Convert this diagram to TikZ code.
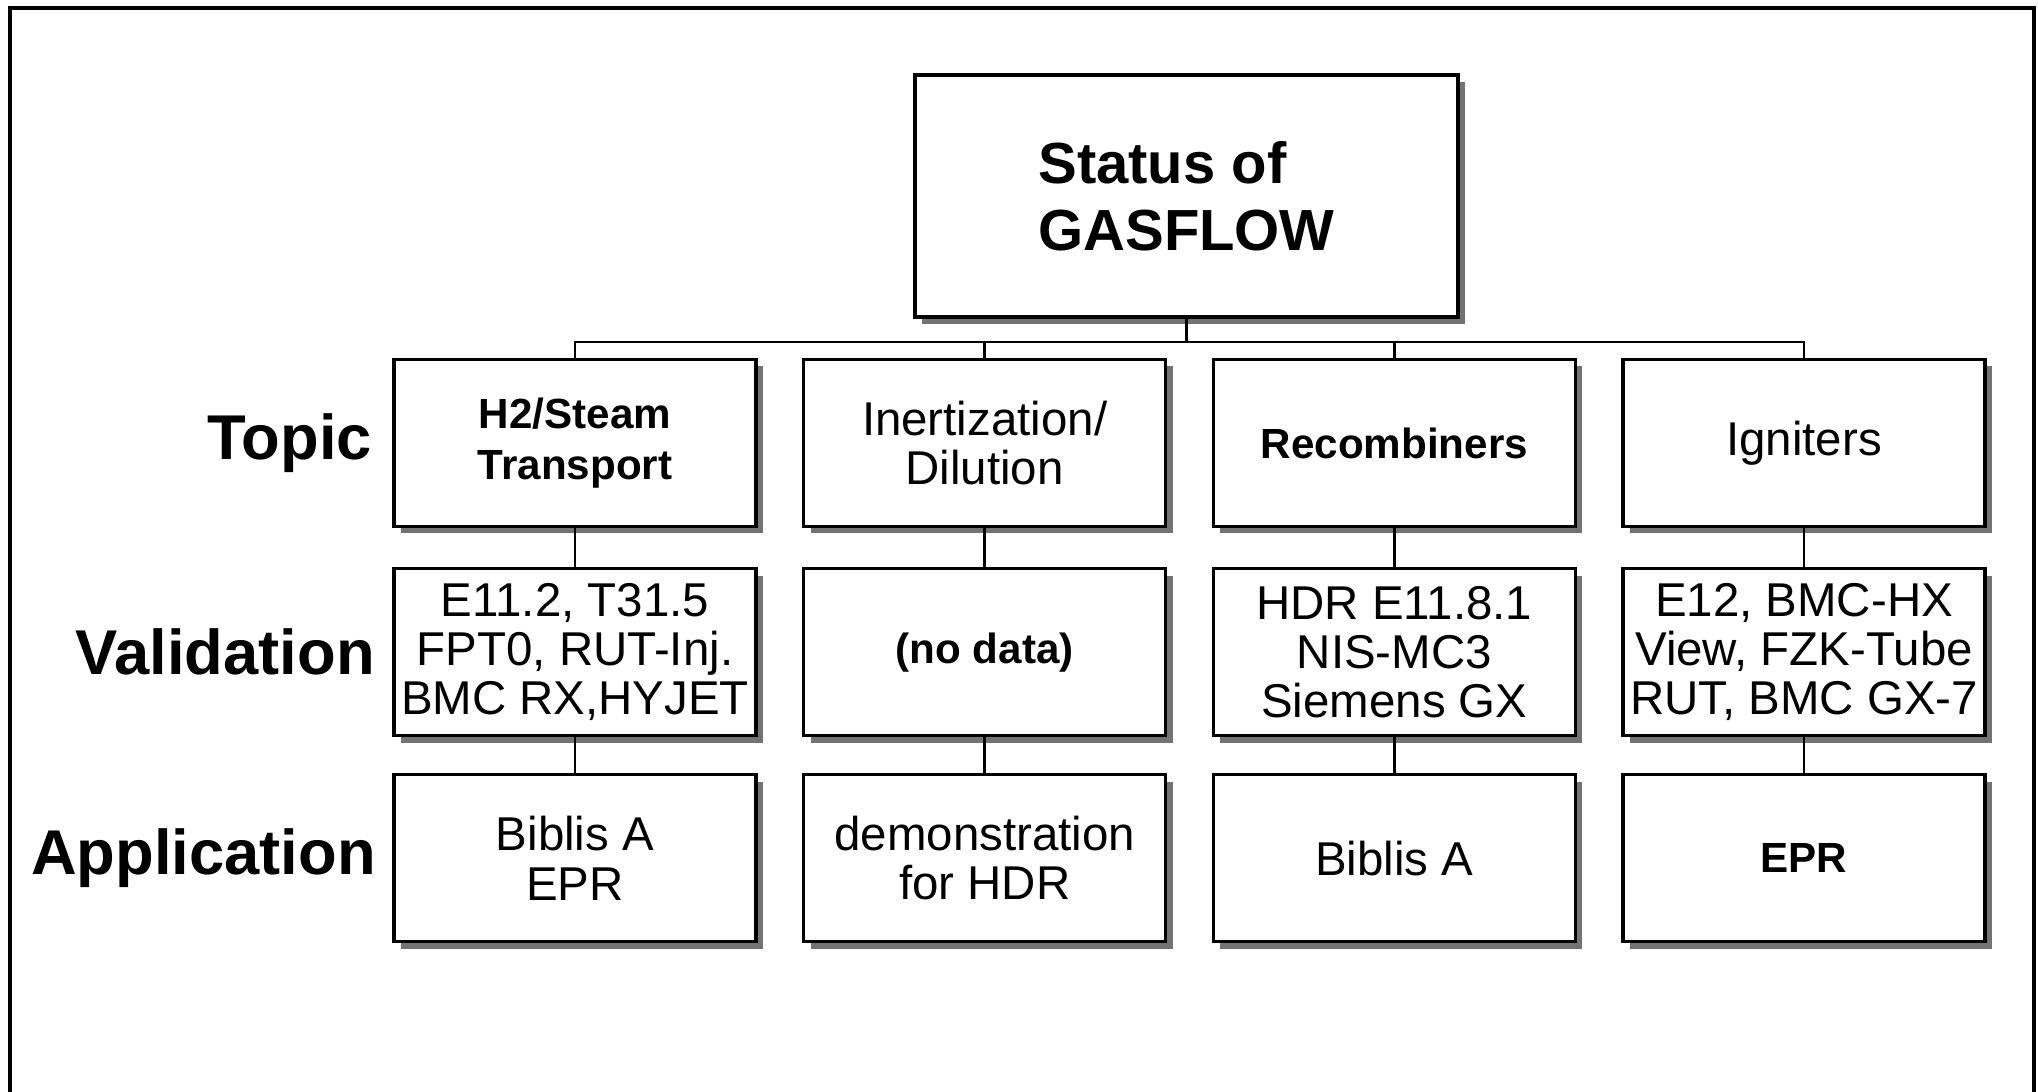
\documentclass[tikz,border=0pt]{standalone}
\usepackage{fontspec}
\setmainfont{Liberation Sans}
\usetikzlibrary{positioning,shadows}

\begin{document}
\begin{tikzpicture}[
        box/.style={rectangle, draw=black, fill=white, line width=0.9pt, minimum width=3.62cm, minimum height=1.67cm, align=center, inner sep=0pt, drop shadow={shadow xshift=0.07cm, shadow yshift=-0.07cm, fill=black!55, opacity=1}},
        statusbox/.style={box, minimum width=5.43cm, minimum height=2.42cm, align=left, font=\fontsize{16.5}{19}\selectfont\bfseries},
        boldbox/.style={box, font=\fontsize{12}{14.5}\selectfont\bfseries},
        plainbox/.style={box, font=\fontsize{13.5}{14}\selectfont},
        rowlabel/.style={font=\fontsize{18}{20}\selectfont\bfseries, inner sep=0pt},
        link/.style={line width=0.7pt},
    ]
    \useasboundingbox (0,0) rectangle (20.38,-10.92);
    \draw[line width=1pt] (0.1,-10.92) -- (0.1,-0.08) -- (20.34,-0.08) -- (20.34,-10.92);

    \node[statusbox] (status) at (11.865,-1.96) {Status of\\GASFLOW};

    % topic row
    \node[boldbox]  (h2)     at (5.75,-4.43)        {H2/Steam\\Transport};
    \node[plainbox] (inert)  [right=0.445cm of h2]     {Inertization/\\Dilution};
    \node[boldbox]  (recomb) [right=0.445cm of inert]  {Recombiners};
    \node[plainbox] (ign)    [right=0.445cm of recomb] {Igniters};

    % validation row
    \node[plainbox] (h2val)     [below=0.39cm of h2]     {E11.2, T31.5\\FPT0, RUT-Inj.\\BMC RX,HYJET};
    \node[boldbox]  (inertval)  [below=0.39cm of inert]  {(no data)};
    \node[plainbox] (recombval) [below=0.39cm of recomb] {HDR E11.8.1\\NIS-MC3\\Siemens GX};
    \node[plainbox] (ignval)    [below=0.39cm of ign]    {E12, BMC-HX\\View, FZK-Tube\\RUT, BMC GX-7};

    % application row
    \node[plainbox] (h2app)     [below=0.36cm of h2val]     {Biblis A\\EPR};
    \node[plainbox] (inertapp)  [below=0.36cm of inertval]  {demonstration\\for HDR};
    \node[plainbox] (recombapp) [below=0.36cm of recombval] {Biblis A};
    \node[boldbox]  (ignapp)    [below=0.36cm of ignval]    {EPR};

    \node[rowlabel, anchor=east] (topic)  [left=0.2cm of h2]     {Topic};
    \node[rowlabel, anchor=east] (valid)  [left=0.17cm of h2val] {Validation};
    \node[rowlabel, anchor=east] (applic) [left=0.16cm of h2app] {Application};

    \draw[link] (status.south) -- ++(0,-0.235) coordinate (bus);
    \draw[link] (h2.north) |- (bus) -| (ign.north);
    \draw[link] (inert.north) -- (inert.north |- bus);
    \draw[link] (recomb.north) -- (recomb.north |- bus);

    \draw[link] (h2) -- (h2val) -- (h2app);
    \draw[link] (inert) -- (inertval) -- (inertapp);
    \draw[link] (recomb) -- (recombval) -- (recombapp);
    \draw[link] (ign) -- (ignval) -- (ignapp);
\end{tikzpicture}
\end{document}
